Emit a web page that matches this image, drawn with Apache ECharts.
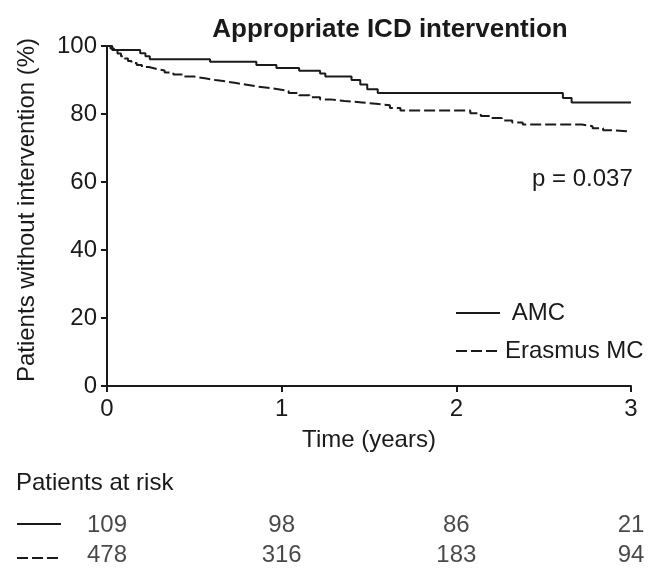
<!DOCTYPE html>
<html>
<head>
<meta charset="utf-8">
<script src="https://cdn.jsdelivr.net/npm/echarts@6/dist/echarts.min.js"></script>
<style>html,body{margin:0;padding:0;background:#fff}#c{width:660px;height:570px}</style>
</head>
<body>
<div id="c"></div>
<script>
// ---- data ----
const xTicks = [0, 1, 2, 3];
const yTicks = [0, 20, 40, 60, 80, 100];
const amcTime = [0, 0.03, 0.19, 0.22, 0.245, 0.59, 0.855, 0.97, 1.10, 1.22, 1.25, 1.40, 1.45, 1.49, 1.55, 2.61, 2.66, 3.0];
const amcSurv = [100, 98.8, 97.9, 97.0, 96.1, 95.4, 94.4, 93.5, 92.7, 91.9, 91.0, 90.0, 88.7, 87.3, 86.2, 84.7, 83.4, 83.4];
const emcTime = [0, 0.02, 0.04, 0.06, 0.08, 0.10, 0.12, 0.14, 0.17, 0.20, 0.24, 0.28, 0.33, 0.38, 0.44, 0.50, 0.56, 0.62, 0.68, 0.74, 0.80, 0.86, 0.92, 0.98, 1.04, 1.10, 1.16, 1.22, 1.28, 1.36, 1.46, 1.54, 1.62, 1.68, 2.08, 2.14, 2.20, 2.26, 2.32, 2.38, 2.72, 2.78, 2.84, 2.90, 3.0];
const emcSurv = [100, 99.3, 98.6, 97.8, 97.0, 96.3, 95.6, 95.0, 94.4, 93.8, 93.3, 92.8, 92.2, 91.6, 91.0, 90.5, 90.0, 89.6, 89.1, 88.6, 88.1, 87.7, 87.3, 86.8, 86.2, 85.5, 84.9, 84.3, 83.8, 83.4, 83.0, 82.6, 81.8, 81.0, 80.2, 79.4, 78.8, 78.1, 77.5, 76.9, 76.4, 75.8, 75.2, 74.8, 74.8];
const groups = ['AMC', 'Erasmus MC'];
const riskTimes = [0, 1, 2, 3];
const riskAMC = [109, 98, 86, 21];
const riskEMC = [478, 316, 183, 94];
const pText = 'p = 0.037';

// ---- chart ----
const FONT = '"Liberation Sans", Arial, Helvetica, sans-serif';
const INK = '#1a1a1a';
const FS = 24;
const zip = (a, b) => a.map((v, i) => [v, b[i]]);
const riskData = [];
riskTimes.forEach((t, i) => {
  riskData.push([t, groups[0], riskAMC[i]]);
  riskData.push([t, groups[1], riskEMC[i]]);
});

const chart = echarts.init(document.getElementById('c'), null, {renderer: 'canvas'});
chart.setOption({
  backgroundColor: '#fff',
  animation: false,
  textStyle: {fontFamily: FONT, color: INK},
  title: {
    text: 'Appropriate ICD intervention',
    left: 385, top: 12, textAlign: 'center',
    textStyle: {fontFamily: FONT, fontWeight: 'bold', fontSize: 26, color: INK}
  },
  grid: [
    {left: 107, right: 29, top: 46, bottom: 184, containLabel: false},
    {left: 107, right: 29, top: 510, height: 68, containLabel: false}
  ],
  xAxis: [
    {
      type: 'value', gridIndex: 0, min: 0, max: 3, interval: 1,
      name: 'Time (years)', nameLocation: 'middle', nameGap: 42,
      nameTextStyle: {fontFamily: FONT, fontSize: FS, color: INK},
      axisLine: {show: true, lineStyle: {color: INK, width: 2}},
      axisTick: {show: true, length: 6, lineStyle: {color: INK, width: 2}},
      axisLabel: {fontFamily: FONT, fontSize: FS, color: INK, margin: 11},
      splitLine: {show: false}
    },
    {
      type: 'value', gridIndex: 1, min: 0, max: 3, interval: 1, show: false
    }
  ],
  yAxis: [
    {
      type: 'value', gridIndex: 0, min: 0, max: 100, interval: 20,
      name: 'Patients without intervention (%)', nameLocation: 'middle', nameGap: 68,
      nameTextStyle: {fontFamily: FONT, fontSize: FS, color: INK, padding: [0, 0, 0, 12]},
      axisLine: {show: true, lineStyle: {color: INK, width: 2}},
      axisTick: {show: true, length: 6, lineStyle: {color: INK, width: 2}},
      axisLabel: {fontFamily: FONT, fontSize: FS, color: INK, margin: 10},
      splitLine: {show: false}
    },
    {
      type: 'category', gridIndex: 1, data: groups, inverse: true, show: false
    }
  ],
  legend: {
    orient: 'vertical', left: 455, top: 300, padding: 0,
    itemWidth: 44, itemHeight: 14, itemGap: 12,
    itemStyle: {opacity: 0},
    textStyle: {fontFamily: FONT, fontSize: FS, color: INK, lineHeight: 26},
    formatter: n => n === 'AMC' ? ' AMC' : n,
    data: groups
  },
  series: [
    {
      name: groups[0], type: 'line', xAxisIndex: 0, yAxisIndex: 0,
      step: 'end', symbol: 'none', data: zip(amcTime, amcSurv),
      lineStyle: {color: INK, width: 2, type: 'solid'}, itemStyle: {color: INK}
    },
    {
      name: groups[1], type: 'line', xAxisIndex: 0, yAxisIndex: 0,
      step: 'end', symbol: 'none', data: zip(emcTime, emcSurv),
      lineStyle: {color: INK, width: 2, type: [11, 4]}, itemStyle: {color: INK}
    },
    {
      name: 'risk', type: 'scatter', xAxisIndex: 1, yAxisIndex: 1,
      symbolSize: 0, data: riskData, silent: true,
      label: {show: true, position: 'inside', formatter: p => String(p.value[2]),
        fontFamily: FONT, fontSize: FS, color: INK}
    }
  ],
  graphic: [
    {type: 'text', left: 532, top: 167,
      style: {text: pText, font: FS + 'px ' + FONT, fill: INK}},
    {type: 'text', left: 16, top: 471,
      style: {text: 'Patients at risk', font: FS + 'px ' + FONT, fill: INK}},
    {type: 'line', shape: {x1: 17, y1: 524, x2: 61, y2: 524},
      style: {stroke: INK, lineWidth: 2}},
    {type: 'line', shape: {x1: 17, y1: 558, x2: 61, y2: 558},
      style: {stroke: INK, lineWidth: 2, lineDash: [11, 4]}}
  ]
});
</script>
</body>
</html>
